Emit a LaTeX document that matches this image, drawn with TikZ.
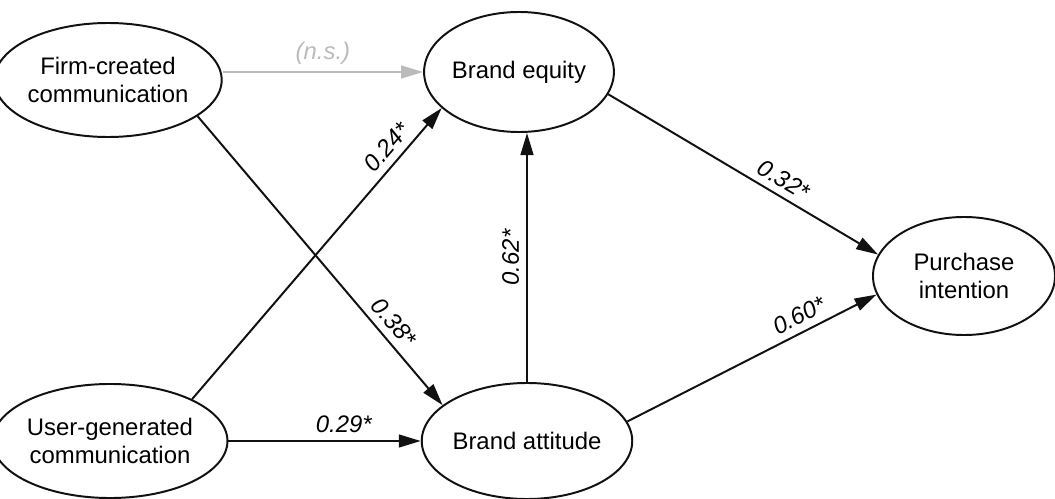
\documentclass[tikz,border=0pt]{standalone}
\usepackage{fontspec}
\setmainfont{Liberation Sans}
\usetikzlibrary{arrows.meta, shapes.geometric}
\definecolor{nodeline}{HTML}{111111}
\definecolor{nsgray}{HTML}{BBBBBB}
\tikzset{
  construct/.style={
    ellipse,
    draw=nodeline,
    line width=1.4pt,
    inner sep=0pt,
    align=center,
    font=\fontsize{17}{20}\selectfont
  },
  arrow/.style={
    -{Triangle[length=5.5mm, width=3.2mm]},
    line width=1.4pt,
    draw=nodeline
  },
  nsarrow/.style={
    arrow,
    draw=nsgray
  },
  coef/.style={
    sloped,
    above,
    inner sep=5pt,
    font=\fontsize{17}{20}\selectfont\itshape
  }
}

\begin{document}
\begin{tikzpicture}[x=0.025cm, y=-0.025cm]
\useasboundingbox (0,0) rectangle (1055,499);

\node[construct, minimum width=4.8cm, minimum height=2.85cm] (firm) at (108,80) {Firm-created\\communication};
\node[construct, minimum width=4.8cm, minimum height=2.85cm] (user) at (110,441) {User-generated\\communication};
\node[construct, minimum width=4.7cm, minimum height=3.0cm] (equity) at (519,72) {Brand equity};
\node[construct, minimum width=4.8cm, minimum height=2.9cm] (attitude) at (527,441) {Brand attitude};
\node[construct, minimum width=4.55cm, minimum height=2.95cm] (purchase) at (964,276) {Purchase\\intention};

\draw[nsarrow] (firm.east |- equity.west) -- node[coef, text=nsgray] {(n.s.)} (equity.west);
\draw[arrow] (firm.-22) -- node[coef, pos=0.75] {0.38*} (attitude.157);
\draw[arrow] (user.27) -- node[coef, pos=0.83] {0.24*} (equity.205);
\draw[arrow] (user) -- node[coef, pos=0.6] {0.29*} (attitude);
\draw[arrow] (attitude.north) -- node[coef, pos=0.5] {0.62*} (attitude.north |- equity.south);
\draw[arrow] (equity.-14) -- node[coef, pos=0.62] {0.32*} (purchase.166);
\draw[arrow] (attitude.11) -- node[coef, pos=0.72] {0.60*} (purchase.192);

\end{tikzpicture}
\end{document}
